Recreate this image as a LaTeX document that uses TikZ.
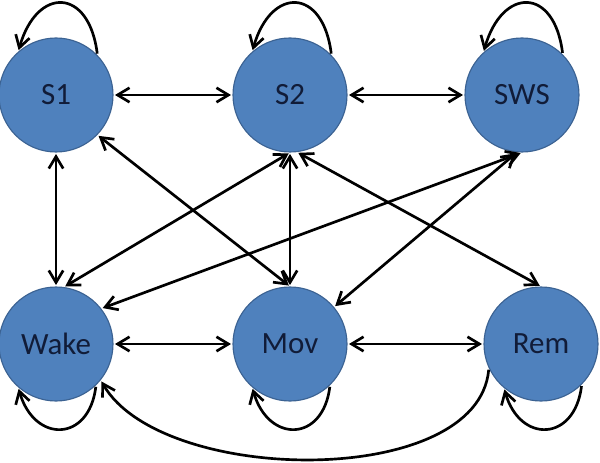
\documentclass[tikz,border=0pt]{standalone}
\usepackage{fontspec}
\setmainfont{Carlito}
\usetikzlibrary{arrows.meta}
\definecolor{nodefill}{HTML}{4F81BD}
\definecolor{nodeline}{HTML}{3B6292}
\definecolor{nodetext}{HTML}{111C38}
\begin{document}
\begin{tikzpicture}[<->,>={Straight Barb[length=3mm,width=3.6mm]},shorten >=1pt,shorten <=1pt,node distance=5.85cm, line width=1.9pt,main node/.style={circle,draw=nodeline,fill=nodefill,line width=0.8pt,minimum size=2.85cm,inner sep=0pt,text=nodetext,font=\fontsize{22}{26}\selectfont}]
                \useasboundingbox (-1.4,2.375) rectangle (13.6,-9.2);

                \node [main node](1) []{S1};
                \node [main node](2) [right of=1]{S2};
                \node [main node](3) [right of=2, xshift=-0.05cm]{SWS};

                \node [main node](4) [below of=1, yshift=-0.375cm]{Wake};
                \node [main node](5) [right of=4]{Mov};
                \node [main node](6) [right of=5, xshift=0.425cm]{Rem};

                \path
                    (1.east) edge (2.west)
                    (2.east) edge (3.west)
                    (4.east) edge (5.west)
                    (5.east) edge (6.west)

                    (1.south) edge (4.north)
                    (1.-44) edge (5.north)
                    (2.south) edge (4.82)
                    (2.south) edge (5.north)
                    (2.-83) edge (6.north)
                    (3.south) edge (4.38)
                    (3.-95) edge (5.40)

                    (1.44) edge [->, out=97, in=74, looseness=2.2] (1.131)
                    (2.44) edge [->, out=97, in=74, looseness=2.2] (2.131)
                    (3.45) edge [->, out=97, in=74, looseness=2.2] (3.132)

                    (4.-46) edge [->, out=-97, in=-74, looseness=1.9] (4.-131)
                    (5.-46) edge [->, out=-97, in=-74, looseness=1.9] (5.-131)
                    (6.-45) edge [->, out=-97, in=-74, looseness=1.9] (6.-130)

                    (6.205) edge [->, out=-95, in=-60, looseness=0.8] (4.-39)
                    ;
            \end{tikzpicture}
\end{document}
